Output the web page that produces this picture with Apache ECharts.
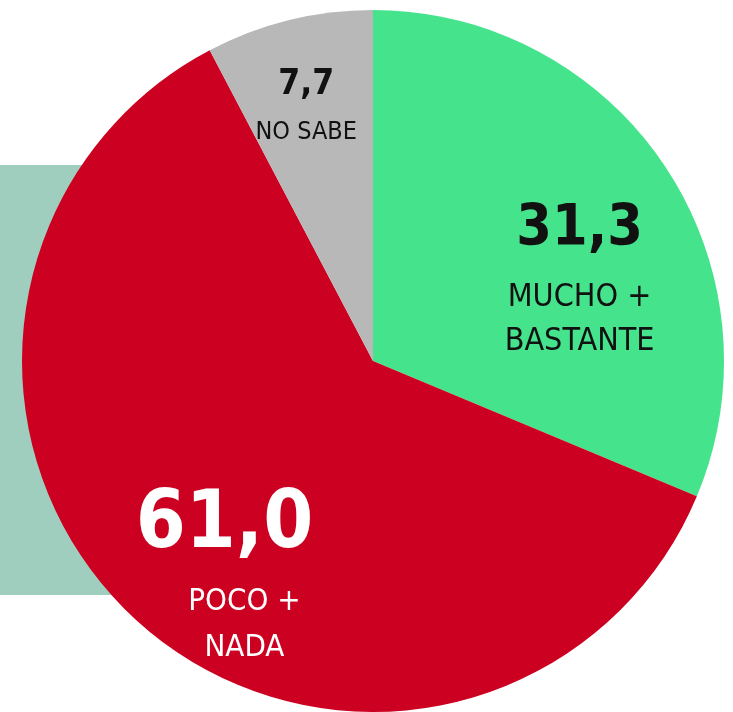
<!DOCTYPE html>
<html>
<head>
<meta charset="utf-8">
<script src="https://cdn.jsdelivr.net/npm/echarts@6/dist/echarts.min.js"></script>
<style>
html,body{margin:0;padding:0;background:#fff;}
#c{width:733px;height:712px;}
</style>
</head>
<body>
<div id="c"></div>
<script>
var categories = ['MUCHO +\nBASTANTE', 'POCO +\nNADA', 'NO SABE'];
var values = [31.3, 61.0, 7.7];
var colors = ['#45e38c', '#cc0020', '#b8b8b8'];

var FONT = '"Liberation Sans Narrow", "DejaVu Sans Condensed", "Liberation Sans", sans-serif';

function fmt(p) {
  var v = p.value.toFixed(1).replace('.', ',');
  var lines = p.name.split('\n').map(function (l) { return '{n|' + l + '}'; });
  return '{v|' + v + '}\n' + lines.join('\n');
}

var labelStyles = [
  { offset: [58, 12], color: '#111', vSize: 57, vLH: 92, nSize: 32, nLH: 44, vPad: [0, 0, 0, 0] },
  { offset: [-8, 80], color: '#fff', vSize: 80, vLH: 104, nSize: 31, nLH: 46, vPad: [0, 40, 0, 0] },
  { offset: [-24, -86], color: '#111', vSize: 35, vLH: 62, nSize: 25, nLH: 34, vPad: [0, 0, 0, 0] }
];

var data = values.map(function (v, i) {
  var s = labelStyles[i];
  return {
    value: v,
    name: categories[i],
    itemStyle: { color: colors[i] },
    label: {
      offset: s.offset,
      color: s.color,
      rich: {
        v: { fontFamily: FONT, fontWeight: 'bold', fontSize: s.vSize, lineHeight: s.vLH, color: s.color, align: 'center', padding: s.vPad },
        n: { fontFamily: FONT, fontSize: s.nSize, lineHeight: s.nLH, color: s.color, align: 'center' }
      }
    }
  };
});

var chart = echarts.init(document.getElementById('c'), null, { renderer: 'canvas' });
chart.setOption({
  animation: false,
  graphic: [{
    type: 'rect',
    z: -10,
    shape: { x: 0, y: 165, width: 200, height: 430 },
    style: { fill: '#9fcebf' }
  }],
  series: [{
    type: 'pie',
    center: [373, 361],
    radius: [0, 351],
    startAngle: 90,
    clockwise: true,
    silent: true,
    label: {
      show: true,
      position: 'inside',
      formatter: fmt,
      align: 'center'
    },
    labelLine: { show: false },
    itemStyle: { borderWidth: 0 },
    data: data
  }]
});
</script>
</body>
</html>
